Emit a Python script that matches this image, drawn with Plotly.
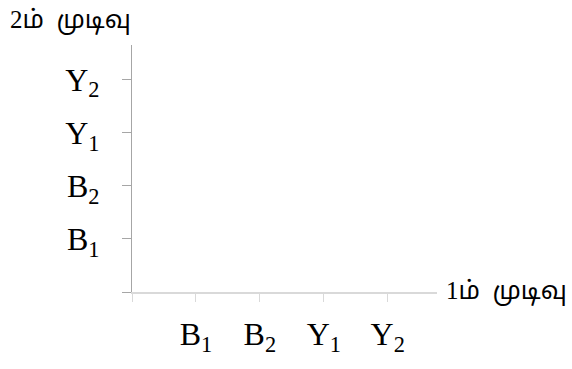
import plotly.graph_objects as go

# Outcome labels for the two trials (tick labels on each axis)
x_labels = ["B<sub>1</sub>", "B<sub>2</sub>", "Y<sub>1</sub>", "Y<sub>2</sub>"]
y_labels = ["B<sub>1</sub>", "B<sub>2</sub>", "Y<sub>1</sub>", "Y<sub>2</sub>"]
tick_pos = [1, 2, 3, 4]
x_title = "1ம்  முடிவு"
y_title = "2ம்  முடிவு"

serif = "Liberation Serif, Times New Roman, serif"
# digits in serif, Tamil letters fall through to a Tamil-capable face
title_font = "Liberation Serif, Latha, Noto Sans Tamil, Lohit Tamil, Noto Sans, sans-serif"

fig = go.Figure()
fig.add_trace(go.Scatter(x=[], y=[], mode="markers", showlegend=False))

fig.update_layout(
    width=572,
    height=369,
    margin=dict(l=132, r=135, t=45, b=59),
    paper_bgcolor="white",
    plot_bgcolor="white",
    showlegend=False,
)

fig.update_xaxes(
    range=[0, 4.77],
    tickmode="array",
    tickvals=[0] + tick_pos,
    ticktext=[""] + x_labels,
    showgrid=False,
    zeroline=False,
    showline=True,
    linecolor="#d9d9d9",
    linewidth=1.5,
    ticks="outside",
    ticklen=8,
    tickwidth=1.3,
    tickcolor="#d9d9d9",
    ticklabelstandoff=5,
    tickfont=dict(family=serif, size=32, color="black"),
)

fig.update_yaxes(
    range=[0, 4.65],
    tickmode="array",
    tickvals=[0] + tick_pos,
    ticktext=[""] + y_labels,
    showgrid=False,
    zeroline=False,
    showline=True,
    linecolor="#a6a6a6",
    linewidth=1.3,
    ticks="outside",
    ticklen=9,
    tickwidth=1.3,
    tickcolor="#a6a6a6",
    ticklabelstandoff=16,
    tickfont=dict(family=serif, size=32, color="black"),
)

fig.add_annotation(
    text=y_title, xref="paper", yref="paper",
    x=-124 / 305, y=1 + 26 / 265, xanchor="left", yanchor="middle",
    showarrow=False, font=dict(family=title_font, size=25, color="black"),
)
fig.add_annotation(
    text=x_title, xref="paper", yref="paper",
    x=1 + 7 / 305, y=0, xanchor="left", yanchor="middle",
    showarrow=False, font=dict(family=title_font, size=25, color="black"),
)

fig.write_html("out.html")
